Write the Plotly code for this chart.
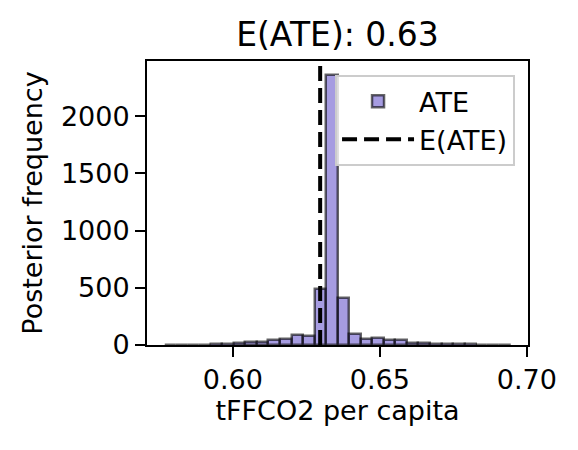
import plotly.graph_objects as go

# Histogram of posterior ATE draws (bin edges and counts)
bin_edges = [0.5768, 0.5807, 0.5846, 0.5886, 0.5925, 0.5964, 0.6003, 0.6043,
             0.6082, 0.6121, 0.6160, 0.6200, 0.6239, 0.6278, 0.6317, 0.6357,
             0.6396, 0.6435, 0.6474, 0.6513, 0.6553, 0.6592, 0.6631, 0.6670,
             0.6710, 0.6749, 0.6788, 0.6827, 0.6866, 0.6906, 0.6945]
counts = [1, 1, 2, 3, 5, 10, 20, 25, 28, 47, 55, 87, 83, 487, 2365,
          414, 100, 52, 62, 44, 43, 20, 16, 12, 10, 7, 5, 3, 2, 1]
mean_ate = 0.6297

x_ticks = [0.60, 0.65, 0.70]
y_ticks = [0, 500, 1000, 1500, 2000]

centers = [(a + b) / 2 for a, b in zip(bin_edges[:-1], bin_edges[1:])]
widths = [b - a for a, b in zip(bin_edges[:-1], bin_edges[1:])]
y_top = max(counts) * 1.05

font = "DejaVu Sans, Liberation Sans, sans-serif"

fig = go.Figure()
fig.add_trace(go.Bar(
    x=centers, y=counts, width=widths, name="ATE",
    marker=dict(color="rgba(106,90,205,0.6)",
                line=dict(color="rgba(0,0,0,0.6)", width=2.5)),
))
fig.add_trace(go.Scatter(
    x=[mean_ate, mean_ate], y=[0, y_top], mode="lines", name="E(ATE)",
    line=dict(color="black", width=4, dash="15px,7px"),
))

axis_common = dict(
    showline=True, linecolor="black", linewidth=2, mirror=True,
    ticks="outside", ticklen=10, tickwidth=2, tickcolor="black",
    showgrid=False, zeroline=False,
    tickfont=dict(size=27, color="black"),
)

# page body has an 8px margin, so the figure is a bit smaller than the window
fig.update_layout(
    width=570, height=442,
    margin=dict(l=139, r=50, t=53, b=105),
    paper_bgcolor="white", plot_bgcolor="white",
    font=dict(family=font, color="black"),
    title=dict(text="E(ATE): 0.63", x=0.5, xref="paper", xanchor="center",
               y=1, yref="paper", yanchor="bottom", pad=dict(b=15),
               font=dict(size=33, color="black")),
    xaxis=dict(range=[0.5708, 0.7004], tickvals=x_ticks, tickformat=".2f",
               title=dict(text="tFFCO2 per capita", font=dict(size=27), standoff=6),
               **axis_common),
    yaxis=dict(range=[0, y_top], tickvals=y_ticks,
               title=dict(text="Posterior frequency", font=dict(size=27), standoff=10),
               **axis_common),
    bargap=0,
    showlegend=True,
    legend=dict(x=0.966, xanchor="right", y=0.95, yanchor="top",
                bgcolor="rgba(255,255,255,0.8)", bordercolor="rgb(204,204,204)",
                borderwidth=2, font=dict(size=27, color="black"),
                itemwidth=72, tracegroupgap=0),
)

fig.write_html("out.html")
